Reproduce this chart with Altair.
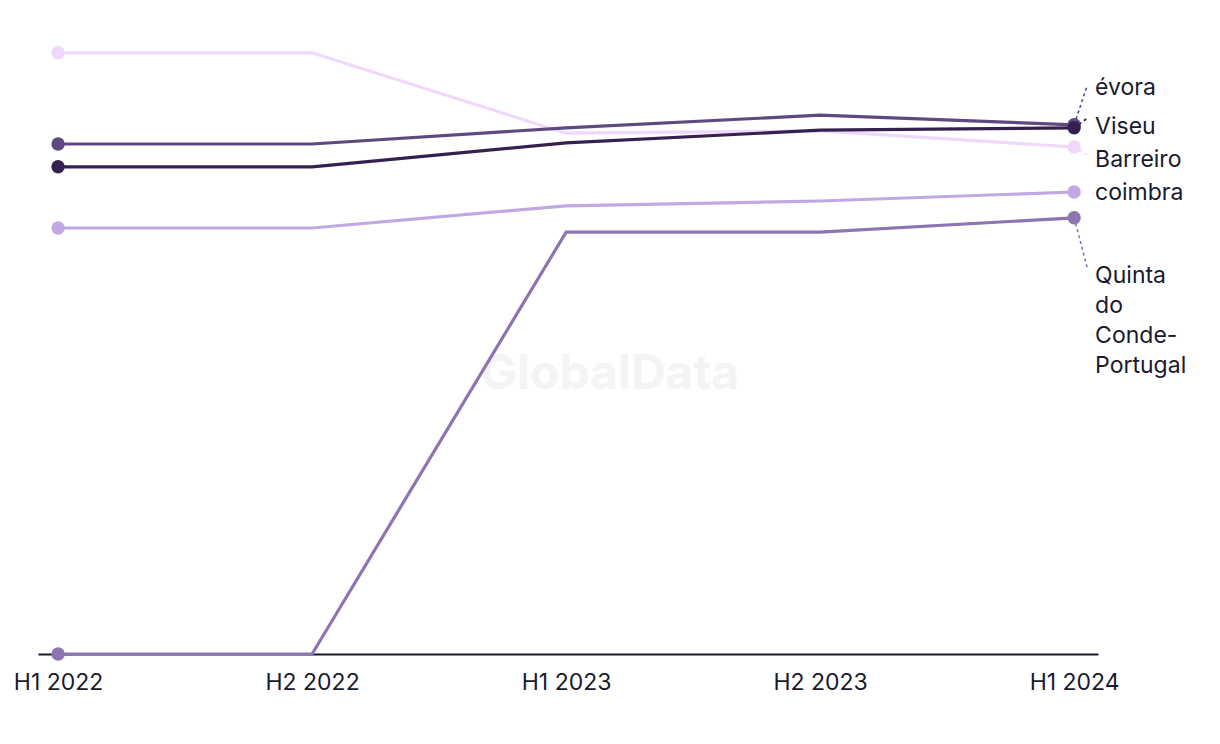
import altair as alt
import pandas as pd

periods = ["H1 2022", "H2 2022", "H1 2023", "H2 2023", "H1 2024"]
series = ["Barreiro", "évora", "Viseu", "coimbra", "Quinta do Conde-Portugal"]
barreiro = [100.2, 100.2, 86.8, 87.2, 84.5]
evora = [85.0, 85.0, 87.7, 89.8, 88.2]
viseu = [81.2, 81.2, 85.2, 87.3, 87.7]
coimbra = [71.0, 71.0, 74.7, 75.5, 77.0]
quinta = [0.0, 0.0, 70.3, 70.3, 72.7]
values = [barreiro, evora, viseu, coimbra, quinta]
colors = ["#f0d8fc", "#5e4a80", "#35214f", "#c2a8e2", "#8d75b1"]
label_texts = ["Barreiro", "évora", "Viseu", "coimbra", "Quinta\ndo\nConde-\nPortugal"]

# label layout (data units on the value scale)
label_pos = [82.3, 94.3, 87.8, 76.8, 63.0]
leader_end = [83.2, 94.8, 89.3, 77.0, 64.3]

rows = []
for s, vals in zip(series, values):
    for i, v in enumerate(vals):
        rows.append({"series": s, "idx": i, "period": periods[i], "value": v})
df = pd.DataFrame(rows)

lab = pd.DataFrame({
    "series": series,
    "text": label_texts,
    "end": [v[-1] for v in values],
    "lpos": label_pos,
    "lend": leader_end,
    "idx": [len(periods) - 1] * len(series),
    "idx2": [len(periods) - 1 + 0.052] * len(series),
})

W, H = 1060, 624
xscale = alt.Scale(domain=[-0.079, 4.094], nice=False, zero=False)
yscale = alt.Scale(domain=[0, 104], nice=False)
color = alt.Color("series:N", scale=alt.Scale(domain=series, range=colors), legend=None)

label_expr = "[" + ",".join("'%s'" % p for p in periods) + "][datum.value]"

x_axis = alt.Axis(
    values=list(range(len(periods))), labelExpr=label_expr, title=None,
    ticks=False, grid=False, domainColor="#1a1a2e", domainWidth=2,
    labelFont="Inter", labelFontSize=23, labelColor="#1a1a2e", labelPadding=17,
)

base = alt.Chart(df)

lines = base.mark_line(strokeWidth=3.2).encode(
    x=alt.X("idx:Q", scale=xscale, axis=x_axis),
    y=alt.Y("value:Q", scale=yscale, axis=None),
    color=color,
    detail="series:N",
    order="idx:Q",
)

points = base.transform_filter(
    (alt.datum.idx == 0) | (alt.datum.idx == len(periods) - 1)
).mark_circle(size=180, opacity=1).encode(
    x=alt.X("idx:Q", scale=xscale),
    y=alt.Y("value:Q", scale=yscale),
    color=color,
)

leaders = alt.Chart(lab).transform_filter(
    "abs(datum.lend - datum.end) > 0.5"
).mark_rule(strokeWidth=1.6, strokeDash=[3, 3]).encode(
    x=alt.X("idx:Q", scale=xscale),
    x2="idx2:Q",
    y=alt.Y("end:Q", scale=yscale),
    y2="lend:Q",
    color=color,
)

labels = alt.Chart(lab).mark_text(
    align="left", baseline="middle", dx=21, font="Inter", fontSize=23,
    color="#1a1a2e", lineBreak="\n", lineHeight=30,
).encode(
    x=alt.X("idx:Q", scale=xscale),
    y=alt.Y("lpos:Q", scale=yscale),
    text="text:N",
)

watermark = alt.Chart(pd.DataFrame({"t": ["GlobalData"]})).mark_text(
    font="Inter", fontSize=48, fontWeight="bold", color="#f4f4f4",
    align="center", baseline="middle",
).encode(x=alt.value(572), y=alt.value(345), text="t:N")

chart = alt.layer(watermark, lines, leaders, points, labels).properties(
    width=W, height=H,
    background="white",
    autosize=alt.AutoSizeParams(type="none"),
    padding={"left": 38, "top": 30, "right": 122, "bottom": 90},
).configure_view(strokeWidth=0, stroke=None)

chart.save("out.html", embed_options={"renderer": "svg", "actions": False})
